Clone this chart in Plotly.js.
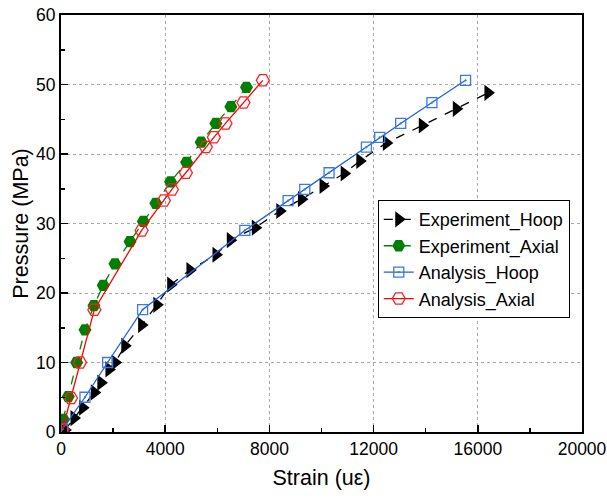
<!DOCTYPE html>
<html>
<head>
<meta charset="utf-8">
<script src="https://cdn.plot.ly/plotly-3.0.1.min.js"></script>
<style>html,body{margin:0;padding:0;background:#fff;}#chart{width:607px;height:498px;}</style>
</head>
<body>
<div id="chart"></div>
<script>
// Experiment_Hoop
const expHoopX = [150, 500, 830, 1280, 1530, 1840, 2080, 2450, 3095, 3680, 4210, 4950, 5950, 6500, 7460, 8400, 9230, 10060, 10870, 11470, 12490, 13870, 15175, 16390];
const expHoopY = [0.3, 2.0, 3.5, 5.7, 7.1, 9.0, 10.0, 12.4, 15.4, 18.3, 21.2, 23.3, 25.5, 27.6, 29.4, 31.8, 33.5, 35.4, 37.2, 39.0, 41.6, 44.1, 46.5, 48.8];
// Experiment_Axial
const expAxialX = [90, 280, 600, 920, 1265, 1620, 2070, 2650, 3160, 3640, 4205, 4820, 5380, 5945, 6520, 7120];
const expAxialY = [1.8, 5.1, 10.0, 14.7, 18.2, 21.1, 24.2, 27.4, 30.3, 32.9, 36.0, 38.8, 41.7, 44.4, 46.8, 49.6];
// Analysis_Hoop
const anaHoopX = [60, 920, 1790, 3133, 7056, 8717, 9357, 10290, 11724, 12234, 13040, 14240, 15530];
const anaHoopY = [0.4, 5.0, 10.0, 17.6, 29.0, 33.3, 34.9, 37.3, 41.0, 42.4, 44.4, 47.4, 50.6];
// Analysis_Axial
const anaAxialX = [60, 384, 730, 1280, 3095, 3950, 4257, 4794, 5560, 5868, 6315, 7005, 7747];
const anaAxialY = [0.4, 4.9, 10.0, 17.6, 29.0, 33.3, 34.9, 37.3, 41.0, 42.4, 44.4, 47.4, 50.6];

const xTicks = [0, 4000, 8000, 12000, 16000, 20000];
const yTicks = [0, 10, 20, 30, 40, 50, 60];

const FONT = "Liberation Sans, Arial, sans-serif";

const traces = [
  {x: expHoopX, y: expHoopY, name: 'Experiment_Hoop', mode: 'lines+markers',
   line: {color: '#000000', width: 1.3, dash: 'dash'},
   marker: {symbol: 'triangle-right', size: 14, color: '#000000'}},
  {x: expAxialX, y: expAxialY, name: 'Experiment_Axial', mode: 'lines+markers',
   line: {color: '#007f00', width: 1.3, dash: 'dash'},
   marker: {symbol: 'hexagon2', size: 13, color: '#007f00'}},
  {x: anaHoopX, y: anaHoopY, name: 'Analysis_Hoop', mode: 'lines+markers',
   line: {color: '#1f60e0', width: 1.3},
   marker: {symbol: 'square-open-dot', size: 10, color: '#3a78f0', line: {width: 1.3}}},
  {x: anaAxialX, y: anaAxialY, name: 'Analysis_Axial', mode: 'lines+markers',
   line: {color: '#ff0000', width: 1.3},
   marker: {symbol: 'hexagon2-open', size: 13, color: '#ff2020', line: {width: 1.3}}}
];

const axisCommon = {
  showline: true, linecolor: '#000', linewidth: 2, mirror: true,
  ticks: 'inside', ticklen: 7, tickwidth: 1.5, tickcolor: '#000',
  showgrid: true, gridcolor: '#a8a8a8', gridwidth: 1, griddash: '3px,3px',
  zeroline: false, ticklabeloverflow: 'allow',
  tickfont: {family: FONT, size: 17.5, color: '#000'}
};

const layout = {
  width: 607, height: 498,
  margin: {l: 61, r: 25, t: 15, b: 66},
  paper_bgcolor: '#fff', plot_bgcolor: '#fff',
  showlegend: true,
  xaxis: Object.assign({}, axisCommon, {
    range: [0, 20000], tickvals: xTicks, ticktext: xTicks.map(String),
    minor: {ticks: 'inside', ticklen: 4, tickwidth: 1.5, tickcolor: '#000', dtick: 2000, showgrid: false},
    title: {text: 'Strain (u\u03b5)', font: {family: FONT, size: 21.5, color: '#000'}, standoff: 12}
  }),
  yaxis: Object.assign({}, axisCommon, {
    range: [0, 60], tickvals: yTicks, ticktext: yTicks.map(String),
    minor: {ticks: 'inside', ticklen: 4, tickwidth: 1.5, tickcolor: '#000', dtick: 5, showgrid: false},
    title: {text: 'Pressure (MPa)', font: {family: FONT, size: 21.5, color: '#000'}, standoff: 2}
  }),
  legend: {
    x: 0.608, y: 0.556, xanchor: 'left', yanchor: 'top',
    bgcolor: '#fff', bordercolor: '#000', borderwidth: 1,
    font: {family: FONT, size: 18, color: '#000'},
    tracegroupgap: 0
  }
};

Plotly.newPlot('chart', traces, layout, {displayModeBar: false, staticPlot: true});
</script>
</body>
</html>
